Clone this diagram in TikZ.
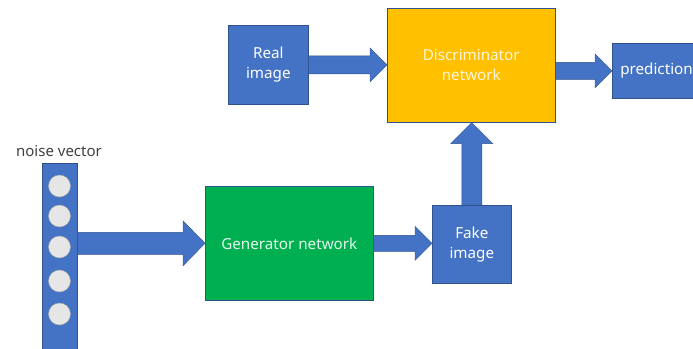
\documentclass[tikz,border=0pt]{standalone}
\usepackage{fontspec}
\setmainfont{Noto Sans}
\usetikzlibrary{calc}
\definecolor{gblue}{HTML}{4472C4}
\definecolor{gblueedge}{HTML}{2F528F}
\definecolor{gyellow}{HTML}{FFC000}
\definecolor{ggreen}{HTML}{00B050}
\definecolor{gcircle}{HTML}{E7E6E6}
\definecolor{gtext}{HTML}{404040}
\tikzset{
  boxbase/.style={draw=gblueedge, line width=0.6pt, anchor=north west, inner sep=0pt,
    align=center, text=white, font=\fontsize{15.2}{20}\selectfont},
  bluebox/.style={boxbase, fill=gblue},
  yellowbox/.style={boxbase, fill=gyellow, text=white!85!gyellow},
  greenbox/.style={boxbase, fill=ggreen, text=white!90!ggreen},
  blockarrow/.style={fill=gblue, draw=gblueedge, line width=0.4pt},
  vcircle/.style={circle, fill=gcircle, draw=gray!70, line width=0.5pt, minimum size=22pt, inner sep=0pt},
}
\begin{document}
\begin{tikzpicture}[x=1pt,y=-1pt]
\useasboundingbox (0,0) rectangle (693,348);
\begin{scope}
\clip (0,0) rectangle (693,348);
% boxes
\node[bluebox, minimum width=80pt, minimum height=79pt] (real) at (228,25) {Real\\image};
\node[yellowbox, minimum width=168pt, minimum height=114pt] (disc) at (387,8) {Discriminator\\network};
\node[bluebox, minimum width=100pt, minimum height=55pt, text width=100pt, align=left] (pred) at (612,43) {\hspace*{8pt}prediction};
\node[greenbox, minimum width=168pt, minimum height=114pt] (gen) at (205,186) {Generator network};
\node[bluebox, minimum width=79pt, minimum height=78pt] (fake) at (432,205) {Fake\\image};
\node[bluebox, minimum width=35pt, minimum height=190pt] (noise) at (42,163) {};
\node[font=\fontsize{15}{17}\selectfont, text=gtext, inner sep=0pt] (nlabel) at (59,151) {noise vector};
\foreach \i/\y in {1/186,2/216,3/247,4/281,5/314}{
  \node[vcircle] (c\i) at (59.5,\y) {};
}
% block arrows (horizontal)
% real -> disc
\fill[blockarrow] ($(real.east)+(0,-9)$) -- ($(disc.west |- real.east)+(-17,-9)$) -- ($(disc.west |- real.east)+(-17,-17)$)
  -- (disc.west |- real.east) -- ($(disc.west |- real.east)+(-17,17)$) -- ($(disc.west |- real.east)+(-17,9)$)
  -- ($(real.east)+(0,9)$) -- cycle;
% disc -> pred
\fill[blockarrow] ($(disc.east |- pred.west)+(0,-8.5)$) -- ($(pred.west)+(-17,-8.5)$) -- ($(pred.west)+(-17,-17)$)
  -- (pred.west) -- ($(pred.west)+(-17,17)$) -- ($(pred.west)+(-17,8.5)$)
  -- ($(disc.east |- pred.west)+(0,8.5)$) -- cycle;
% noise -> gen
\fill[blockarrow] ($(noise.east |- gen.west)+(0,-11)$) -- ($(gen.west)+(-22,-11)$) -- ($(gen.west)+(-22,-22.5)$)
  -- (gen.west) -- ($(gen.west)+(-22,22.5)$) -- ($(gen.west)+(-22,11)$)
  -- ($(noise.east |- gen.west)+(0,11)$) -- cycle;
% gen -> fake
\fill[blockarrow] ($(gen.east)+(0,-8)$) -- ($(fake.west |- gen.east)+(-17,-8)$) -- ($(fake.west |- gen.east)+(-17,-17)$)
  -- (fake.west |- gen.east) -- ($(fake.west |- gen.east)+(-17,17)$) -- ($(fake.west |- gen.east)+(-17,8)$)
  -- ($(gen.east)+(0,8)$) -- cycle;
% fake -> disc (vertical)
\fill[blockarrow] ($(fake.north)+(-10,0)$) -- ($(fake.north |- disc.south)+(-10,21)$) -- ($(fake.north |- disc.south)+(-21,21)$)
  -- (fake.north |- disc.south) -- ($(fake.north |- disc.south)+(21,21)$) -- ($(fake.north |- disc.south)+(10,21)$)
  -- ($(fake.north)+(10,0)$) -- cycle;
\end{scope}
\end{tikzpicture}
\end{document}
